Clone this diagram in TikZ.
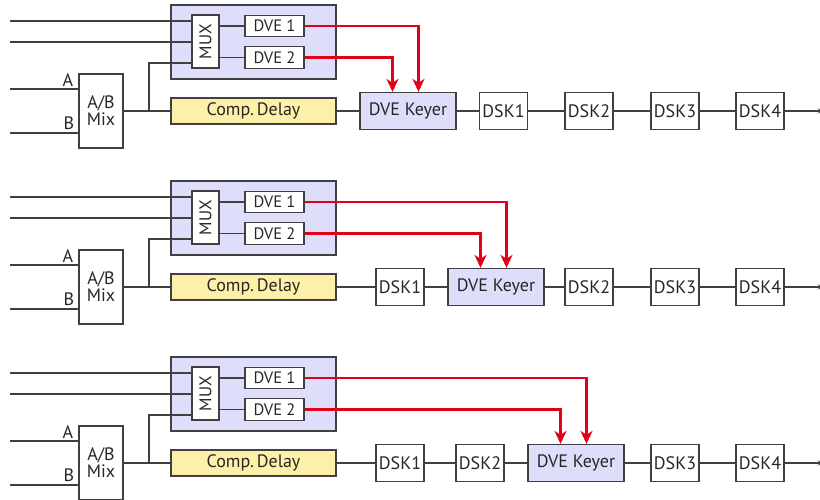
\documentclass[tikz,border=0pt]{standalone}
\usepackage{fontspec}
\setmainfont{PT Sans}
\usetikzlibrary{arrows.meta}

\definecolor{boxline}{HTML}{404040}
\definecolor{lav}{HTML}{DEDDFA}
\definecolor{delayfill}{HTML}{FDF0A9}
\definecolor{sigred}{HTML}{E2001A}

\tikzset{
  blk/.style={draw=boxline, line width=1.3pt, inner sep=0pt, text=black!85,
    font=\fontsize{18}{19}\selectfont},
  dsk/.style={blk, fill=white, minimum width=48pt, minimum height=37pt},
  keyer/.style={blk, fill=lav, minimum width=96pt, minimum height=37pt},
  dvebox/.style={blk, fill=white, minimum width=59pt, minimum height=21.5pt,
    font=\fontsize{16.5}{17}\selectfont},
  wire/.style={draw=boxline, line width=1.2pt},
  redwire/.style={draw=sigred, line width=2.7pt,
    -{Stealth[length=13pt,width=12pt,inset=4pt]}},
  outwire/.style={wire, -{Stealth[length=6pt,width=5pt]}},
  inlabel/.style={inner sep=0pt, text=black!85, font=\fontsize{18}{19}\selectfont},
  % input section shared by every row: A/B mixer, MUX, two DVEs, delay
  front/.pic={
    \node[blk, fill=lav, minimum width=165pt, minimum height=74pt] (-lav) at (253.5,42) {};
    \node[blk, fill=white, minimum width=27pt, minimum height=53pt] (-mux) at (205.5,41.5)
      {\rotatebox{90}{\fontsize{17}{18}\selectfont MUX}};
    \node[dvebox] (-dve1) at (274.5,26) {DVE 1};
    \node[dvebox] (-dve2) at (274.5,57.5) {DVE 2};
    \node[blk, fill=white, minimum width=44pt, minimum height=74pt, align=center,
      font=\fontsize{18}{17}\selectfont] (-mix) at (101,111) {A/B\\Mix};
    \node[blk, fill=delayfill, minimum width=165pt, minimum height=26pt] (-delay) at (253.5,111)
      {Comp.\,Delay};
    \coordinate (-in1) at (10,21);
    \coordinate (-in2) at (10,42);
    \coordinate (-ina) at (10,89);
    \coordinate (-inb) at (10,133);
    \coordinate (-split) at (149,111);
    \node[inlabel] (-la) at (68,80) {A};
    \node[inlabel] (-lb) at (69,123) {B};
    \draw[wire] (-in1) -- (-in1 -| -mux.west);
    \draw[wire] (-in2) -- (-in2 -| -mux.west);
    \draw[wire] (-ina) -- (-ina -| -mix.west);
    \draw[wire] (-inb) -- (-inb -| -mix.west);
    \draw[wire] (-mix.east) -- (-delay.west);
    \draw[wire] (-split) |- ([yshift=-21.5pt]-mux.west);
    \draw[wire] (-mux.east |- -dve1.west) -- (-dve1.west);
    \draw[wire] (-mux.east |- -dve2.west) -- (-dve2.west);
  }
}

\begin{document}
\begin{tikzpicture}[x=1pt, y=-1pt]
  \useasboundingbox (0,0) rectangle (820,499);

  % ---- row 1: DVE keyer ahead of all downstream keyers
  \pic (a) at (0,0) {front};
  \node[keyer] (ak) at (408,111) {DVE Keyer};
  \node[dsk] (a1) at (503.5,111) {DSK1};
  \node[dsk] (a2) at (589,111) {DSK2};
  \node[dsk] (a3) at (675,111) {DSK3};
  \node[dsk] (a4) at (760,111) {DSK4};
  \coordinate (aout) at (824,111);
  \draw[wire] (a-delay.east) -- (ak.west);
  \draw[wire] (ak.east) -- (a1.west);
  \draw[wire] (a1.east) -- (a2.west);
  \draw[wire] (a2.east) -- (a3.west);
  \draw[wire] (a3.east) -- (a4.west);
  \draw[outwire] (a4.east) -- (aout);
  \draw[redwire] (a-dve1.east) -| ([xshift=10.5pt]ak.north);
  \draw[redwire] (a-dve2.east) -| ([xshift=-15.5pt]ak.north);

  % ---- row 2: DVE keyer after DSK1
  \pic (b) at (0,176) {front};
  \node[dsk] (b1) at (400,287) {DSK1};
  \node[keyer] (bk) at (496,287) {DVE Keyer};
  \node[dsk] (b2) at (589,287) {DSK2};
  \node[dsk] (b3) at (675,287) {DSK3};
  \node[dsk] (b4) at (760,287) {DSK4};
  \coordinate (bout) at (824,287);
  \draw[wire] (b-delay.east) -- (b1.west);
  \draw[wire] (b1.east) -- (bk.west);
  \draw[wire] (bk.east) -- (b2.west);
  \draw[wire] (b2.east) -- (b3.west);
  \draw[wire] (b3.east) -- (b4.west);
  \draw[outwire] (b4.east) -- (bout);
  \draw[redwire] (b-dve1.east) -| ([xshift=10.5pt]bk.north);
  \draw[redwire] (b-dve2.east) -| ([xshift=-15.5pt]bk.north);

  % ---- row 3: DVE keyer after DSK2
  \pic (c) at (0,352) {front};
  \node[dsk] (c1) at (400,463) {DSK1};
  \node[dsk] (c2) at (480,463) {DSK2};
  \node[keyer] (ck) at (576,463) {DVE Keyer};
  \node[dsk] (c3) at (675,463) {DSK3};
  \node[dsk] (c4) at (760,463) {DSK4};
  \coordinate (cout) at (824,463);
  \draw[wire] (c-delay.east) -- (c1.west);
  \draw[wire] (c1.east) -- (c2.west);
  \draw[wire] (c2.east) -- (ck.west);
  \draw[wire] (ck.east) -- (c3.west);
  \draw[wire] (c3.east) -- (c4.west);
  \draw[outwire] (c4.east) -- (cout);
  \draw[redwire] (c-dve1.east) -| ([xshift=10.5pt]ck.north);
  \draw[redwire] (c-dve2.east) -| ([xshift=-15.5pt]ck.north);
\end{tikzpicture}
\end{document}
